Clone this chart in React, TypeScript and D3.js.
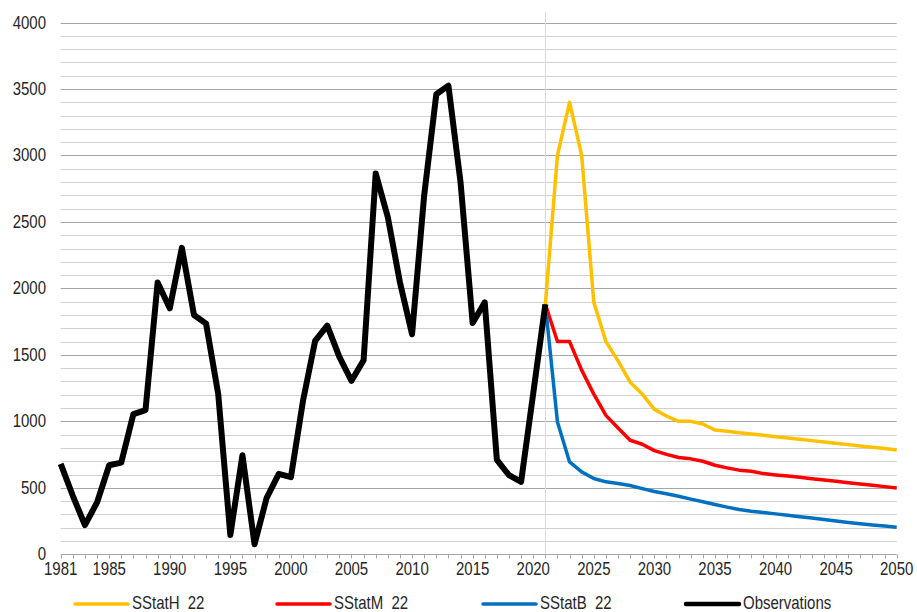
import React, { useEffect, useRef } from 'react';
import * as d3 from 'd3';

// observed values 1981-2021
const obsYears = d3.range(1981, 2022);
const observations = [
  680, 440, 220, 390, 670, 690, 1055, 1085, 2045, 1850,
  2305, 1800, 1735, 1205, 145, 745, 75, 425, 605, 580,
  1155, 1605, 1720, 1485, 1305, 1460, 2865, 2535, 2045, 1655,
  2700, 3460, 3525, 2800, 1740, 1895, 710, 595, 545, 1210,
  1880,
];

// projections 2021-2050
const projYears = d3.range(2021, 2051);
const sstatH = [
  1880, 3000, 3400, 3000, 1895, 1600, 1455, 1295, 1205, 1090,
  1040, 1000, 1000, 980, 935, 925, 915, 905, 895, 885,
  875, 865, 855, 845, 835, 825, 815, 805, 795, 785,
];
const sstatM = [
  1880, 1600, 1600, 1385, 1205, 1045, 950, 858, 828, 780,
  752, 728, 718, 700, 670, 650, 633, 624, 607, 597,
  589, 579, 569, 559, 549, 539, 529, 519, 509, 498,
];
const sstatB = [
  1880, 995, 695, 620, 570, 545, 532, 517, 494, 472,
  455, 436, 415, 395, 375, 355, 337, 324, 314, 304,
  293, 283, 273, 262, 250, 240, 230, 220, 212, 204,
];

const legendItems = [
  { name: 'SStatH_22', color: '#FFC000', width: 3.5 },
  { name: 'SStatM_22', color: '#FF0000', width: 3.5 },
  { name: 'SStatB_22', color: '#0070C0', width: 3.5 },
  { name: 'Observations', color: '#000000', width: 6 },
];

const yTicks = [0, 500, 1000, 1500, 2000, 2500, 3000, 3500, 4000];
const xTicks = [1981, 1985, 1990, 1995, 2000, 2005, 2010, 2015, 2020, 2025, 2030, 2035, 2040, 2045, 2050];

const App = () => {
  const ref = useRef<SVGSVGElement>(null);

  useEffect(() => {
    const svg = d3.select(ref.current);
    svg.selectAll('*').remove();

    const x = d3.scaleLinear().domain([1981, 2050]).range([60.7, 896.7]);
    const y = d3.scaleLinear().domain([0, 4000]).range([554.3, 22.5]);
    const font = 'Arial, "Liberation Sans", sans-serif';

    // gridlines every 100, darker every 500
    const grid = svg.append('g');
    d3.range(100, 4001, 100).forEach((v) => {
      const yy = Math.round(y(v)) + 0.5;
      grid.append('line')
        .attr('x1', x(1981)).attr('x2', x(2050))
        .attr('y1', yy).attr('y2', yy)
        .attr('stroke', v % 500 === 0 ? '#a6a6a6' : '#d0d0d0')
        .attr('stroke-width', 1);
    });

    // vertical marker at 2021
    svg.append('line')
      .attr('x1', Math.round(x(2021)) + 0.5).attr('x2', Math.round(x(2021)) + 0.5)
      .attr('y1', 12).attr('y2', y(0))
      .attr('stroke', '#d9d9d9').attr('stroke-width', 1);

    // x axis line and yearly ticks
    const axY = Math.round(y(0)) + 0.5;
    svg.append('line')
      .attr('x1', x(1981)).attr('x2', x(2050))
      .attr('y1', axY).attr('y2', axY)
      .attr('stroke', '#a6a6a6');
    d3.range(1981, 2051).forEach((yr) => {
      const xx = Math.round(x(yr)) + 0.5;
      svg.append('line')
        .attr('x1', xx).attr('x2', xx)
        .attr('y1', axY).attr('y2', axY + 4)
        .attr('stroke', '#a6a6a6');
    });

    // y labels
    yTicks.forEach((v) => {
      svg.append('text')
        .attr('transform', `translate(46,${y(v) + 6}) scale(1,1.2)`)
        .attr('text-anchor', 'end')
        .attr('font-family', font).attr('font-size', 15)
        .attr('fill', '#262626')
        .text(v);
    });

    // x labels
    xTicks.forEach((yr) => {
      svg.append('text')
        .attr('transform', `translate(${x(yr)},574.5) scale(1,1.2)`)
        .attr('text-anchor', 'middle')
        .attr('font-family', font).attr('font-size', 15)
        .attr('fill', '#262626')
        .text(yr);
    });

    const line = d3.line<[number, number]>()
      .x((d) => x(d[0]))
      .y((d) => y(d[1]));

    const series = [
      { vals: sstatH, years: projYears, item: legendItems[0] },
      { vals: sstatM, years: projYears, item: legendItems[1] },
      { vals: sstatB, years: projYears, item: legendItems[2] },
      { vals: observations, years: obsYears, item: legendItems[3] },
    ];
    series.forEach((s) => {
      svg.append('path')
        .datum(s.years.map((yr, i) => [yr, s.vals[i]] as [number, number]))
        .attr('d', line)
        .attr('fill', 'none')
        .attr('stroke', s.item.color)
        .attr('stroke-width', s.item.width)
        .attr('stroke-linejoin', 'round');
    });

    // legend
    const legendX = [75, 277, 483, 686];
    legendItems.forEach((d, i) => {
      const g = svg.append('g').attr('transform', `translate(${legendX[i]},604)`);
      g.append('line')
        .attr('x1', 0).attr('x2', 53)
        .attr('y1', 0).attr('y2', 0)
        .attr('stroke', d.color).attr('stroke-width', i === 3 ? 4.5 : 3.5)
        .attr('stroke-linecap', 'round');
      g.append('text')
        .attr('transform', 'translate(57,4.5) scale(1,1.2)')
        .attr('font-family', font).attr('font-size', 15)
        .attr('fill', '#262626')
        .text(d.name);
    });
  }, []);

  return (
    <svg
      ref={ref}
      width={917}
      height={612}
      style={{ position: 'absolute', left: 0, top: 0, background: '#fff' }}
    />
  );
};

export default App;
